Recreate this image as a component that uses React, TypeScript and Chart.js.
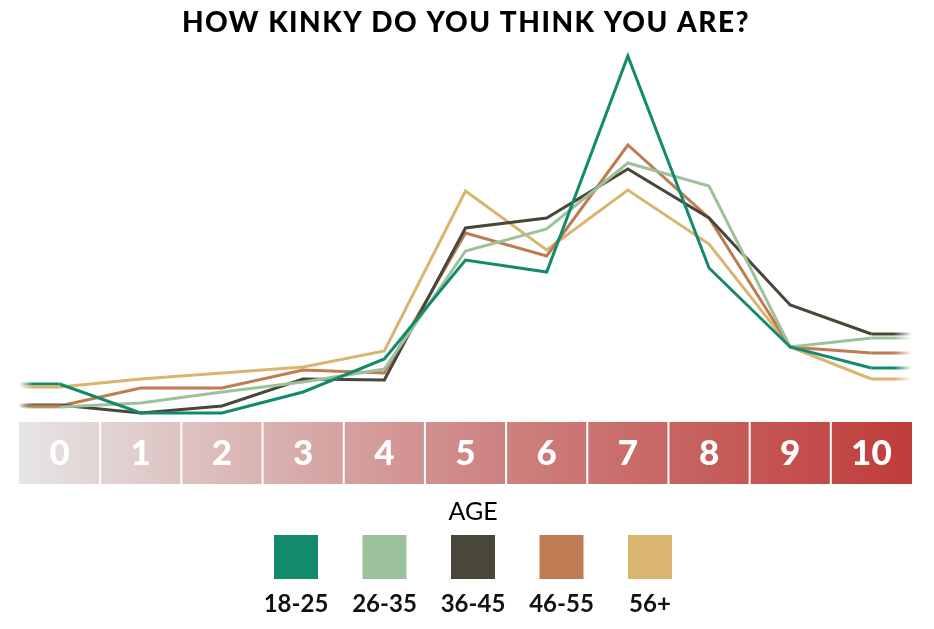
import { useEffect, useRef } from "react"
import { Chart, registerables } from "chart.js"

Chart.register(...registerables)

const scores = ["0", "1", "2", "3", "4", "5", "6", "7", "8", "9", "10"]
const ageGroups = ["18-25", "26-35", "36-45", "46-55", "56+"]
const groupColors = ["#138a6b", "#9cc29c", "#48473a", "#bf7b51", "#d9b56f"]

// share of respondents (%) per score
const age18to25 = [3.4, 0.5, 0.5, 2.6, 5.9, 15.8, 14.6, 36.2, 15.0, 7.1, 5.0]
const age26to35 = [1.1, 1.5, 2.6, 3.6, 4.9, 16.7, 18.9, 25.5, 23.2, 7.1, 8.0]
const age36to45 = [1.3, 0.5, 1.2, 3.9, 3.8, 19.0, 20.0, 24.9, 20.0, 11.3, 8.4]
const age46to55 = [1.2, 3.0, 3.0, 4.8, 4.5, 18.5, 16.2, 27.3, 20.0, 7.1, 6.5]
const age56plus = [3.1, 3.9, 4.5, 5.1, 6.7, 22.7, 16.8, 22.8, 17.4, 7.1, 3.9]

const series = [age18to25, age26to35, age36to45, age46to55, age56plus]

const TITLE = "HOW KINKY DO YOU THINK YOU ARE?"
const FONT = "Lato, 'DejaVu Sans', sans-serif"

function withAlpha(hex: string, a: number) {
  const n = parseInt(hex.slice(1), 16)
  return `rgba(${(n >> 16) & 255}, ${(n >> 8) & 255}, ${n & 255}, ${a})`
}

// score band under the plot, title and the age legend
const decorPlugin = {
  id: "decor",
  beforeDraw(chart: Chart) {
    const { ctx, chartArea } = chart
    const x = chart.scales.x
    const top = 422
    const h = 62
    ctx.save()
    const grad = ctx.createLinearGradient(chartArea.left, 0, chartArea.right, 0)
    grad.addColorStop(0, "#e6e5e5")
    grad.addColorStop(0.5, "#cf8887")
    grad.addColorStop(1, "#bf3c39")
    ctx.fillStyle = grad
    ctx.fillRect(chartArea.left, top, chartArea.right - chartArea.left, h)

    const step = (chartArea.right - chartArea.left) / scores.length
    ctx.fillStyle = "#ffffff"
    for (let i = 1; i < scores.length; i++) {
      const bx = chartArea.left + step * i
      ctx.fillRect(bx - 1, top, 2, h)
    }
    ctx.font = `900 35px ${FONT}`
    ctx.textAlign = "center"
    ctx.textBaseline = "middle"
    scores.forEach((s, i) => {
      ctx.fillText(s, x.getPixelForValue(i), top + h / 2 + 1)
    })

    ctx.fillStyle = "#000000"
    ctx.font = `900 28px ${FONT}`
    ;(ctx as any).letterSpacing = "1.5px"
    ctx.fillText(TITLE, 466, 23)
    ;(ctx as any).letterSpacing = "0px"

    ctx.font = `400 25px ${FONT}`
    ctx.fillText("AGE", 473, 512)
    const gap = 88.5
    ctx.font = `700 24px ${FONT}`
    chart.data.datasets.forEach((ds, i) => {
      const cx = 473 + (i - 2) * gap
      ctx.fillStyle = ds.borderColor as string
      ctx.fillRect(cx - 22, 535, 44, 44)
      ctx.fillStyle = "#111111"
      ctx.fillText(ds.label as string, cx, 604)
    })
    ctx.restore()
  },
  // lines run on past the first and last score and fade out at the edges
  afterDatasetsDraw(chart: Chart) {
    const { ctx, chartArea } = chart
    ctx.save()
    chart.data.datasets.forEach((ds, i) => {
      const pts = chart.getDatasetMeta(i).data
      const first = pts[0]
      const last = pts[pts.length - 1]
      const color = ds.borderColor as string
      ctx.lineWidth = 3

      const gl = ctx.createLinearGradient(chartArea.left, 0, first.x, 0)
      gl.addColorStop(0, withAlpha(color, 0))
      gl.addColorStop(0.35, withAlpha(color, 1))
      gl.addColorStop(1, withAlpha(color, 1))
      ctx.strokeStyle = gl
      ctx.beginPath()
      ctx.moveTo(chartArea.left, first.y)
      ctx.lineTo(first.x, first.y)
      ctx.stroke()

      const gr = ctx.createLinearGradient(last.x, 0, chartArea.right, 0)
      gr.addColorStop(0, withAlpha(color, 1))
      gr.addColorStop(0.55, withAlpha(color, 1))
      gr.addColorStop(1, withAlpha(color, 0))
      ctx.strokeStyle = gr
      ctx.beginPath()
      ctx.moveTo(last.x, last.y)
      ctx.lineTo(chartArea.right, last.y)
      ctx.stroke()
    })
    ctx.restore()
  },
}

export default function App() {
  const chartRef = useRef<HTMLCanvasElement>(null)
  const chartInstance = useRef<Chart | null>(null)

  useEffect(() => {
    if (!chartRef.current) return
    if (chartInstance.current) {
      chartInstance.current.destroy()
    }
    const ctx = chartRef.current.getContext("2d")
    if (!ctx) return

    chartInstance.current = new Chart(ctx, {
      type: "line",
      data: {
        labels: scores,
        datasets: series.map((values, i) => ({
          label: ageGroups[i],
          data: values,
          borderColor: groupColors[i],
          backgroundColor: groupColors[i],
          borderWidth: 3,
          pointRadius: 0,
          tension: 0,
          fill: false,
        })),
      },
      options: {
        responsive: true,
        maintainAspectRatio: false,
        animation: false,
        layout: {
          padding: { left: 19, right: 22, top: 40, bottom: 211 },
        },
        scales: {
          x: { type: "category", offset: true, display: false },
          y: { min: 0, max: 37.8, display: false },
        },
        plugins: {
          legend: { display: false },
          title: { display: false },
          tooltip: { enabled: false },
        },
      },
      plugins: [decorPlugin],
    })

    return () => {
      if (chartInstance.current) {
        chartInstance.current.destroy()
        chartInstance.current = null
      }
    }
  }, [])

  return (
    <div style={{ position: "absolute", left: 0, top: 0, width: 934, height: 629, background: "#fff" }}>
      <canvas ref={chartRef} />
    </div>
  )
}
